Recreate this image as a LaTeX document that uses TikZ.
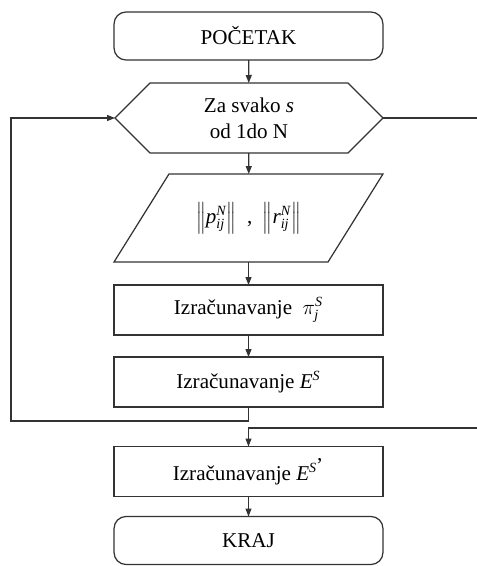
\documentclass[tikz,border=0pt]{standalone}
\usepackage{fontspec}
\setmainfont{Liberation Serif}
\usetikzlibrary{shapes.symbols}
\usetikzlibrary{arrows.meta}

\tikzset{
  line/.style={draw=black!80, line width=0.7pt},
  textonly/.style={minimum width=5.38cm, minimum height=1cm, inner sep=2pt, outer sep=0pt,
    font=\fontsize{12}{15}\selectfont},
  box/.style={textonly, line},
  terminal/.style={box, rounded corners=0.24cm, minimum height=0.96cm},
  loophead/.style={box, shape=signal, signal to=west and east, signal pointer angle=90,
    minimum width=5.36cm, minimum height=1.4cm, align=center},
  flow/.style={line, -{Triangle[length=1.6mm,width=1.2mm]}},
}

\begin{document}
\begin{tikzpicture}[x=0.02cm, y=-0.02cm]
\useasboundingbox (0,0) rectangle (477,566);

\node[terminal] (start) at (248.5,36) {POČETAK};
\node[loophead] (forloop) at (249,118) {Za svako \textit{s}\\od 1do N};
\node[textonly, minimum height=1.76cm] (data) at (248.5,218)
  {$\left\|\mathit{p}_{\mathit{ij}}^{\mathit{N}}\right\|$ \ , \ $\left\|\mathit{r}_{\mathit{ij}}^{\mathit{N}}\right\|$};
% input parallelogram round the data node
\draw[line] (data.south west) -- ++(214,0) -- (data.north east) -- ++(-214,0) -- cycle;
\node[box] (calcpi) at (248.5,310) {Izračunavanje \ $\pi_{\mathit{j}}^{\mathit{S}}$};
\node[box] (calce) at (248.5,382) {Izračunavanje $\mathit{E}^{\mathit{S}}$};
\node[box] (calctot) at (248.5,471.5) {Izračunavanje $\mathit{E}^{\mathit{S}\textnormal{'}}$};
\node[terminal] (stop) at (248.5,540.5) {KRAJ};

% corners of the two loop lines
\coordinate (back) at (11,421);
\coordinate (exit) at (485,428);

\draw[flow] (start) -- (forloop);
\draw[flow] (forloop) -- (data);
\draw[flow] (data) -- (calcpi);
\draw[flow] (calcpi) -- (calce);
\draw[flow] (calce.south) |- (back) |- (forloop.west);
\draw[flow] (forloop.east) -| (exit) -| (calctot.north);
\draw[flow] (calctot) -- (stop);
\end{tikzpicture}
\end{document}
